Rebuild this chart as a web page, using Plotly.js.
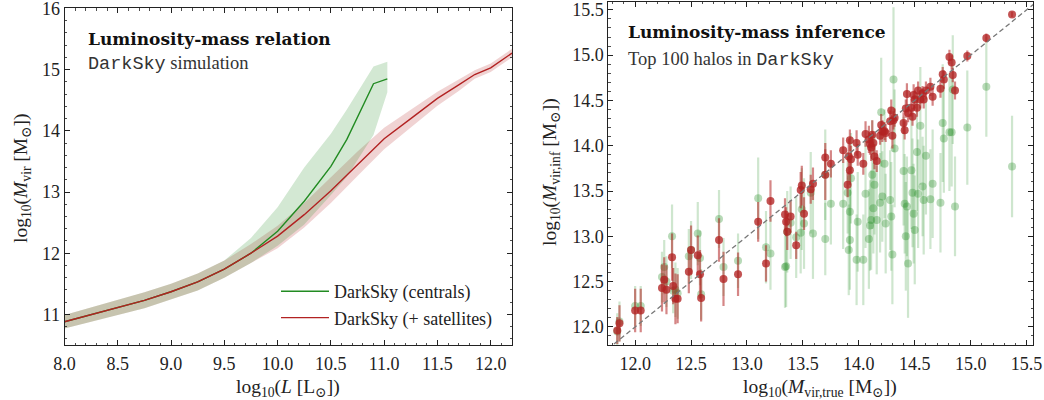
<!DOCTYPE html>
<html>
<head>
<meta charset="utf-8">
<script src="https://cdn.plot.ly/plotly-3.0.1.min.js"></script>
<style>
  html, body { margin: 0; padding: 0; background: #fff; }
  #chart { width: 1044px; height: 400px; }
</style>
</head>
<body>
<div id="chart"></div>
<script>
// ---- Left panel: luminosity-mass relation (median + scatter band) ----
const satL   = [8.0, 8.25, 8.5, 8.75, 9.0, 9.25, 9.5, 9.75, 10.0, 10.25, 10.5, 10.75, 11.0, 11.25, 11.5, 11.7, 11.85, 12.0, 12.2];
const satM   = [10.88, 11.0, 11.11, 11.23, 11.37, 11.53, 11.74, 12.0, 12.28, 12.63, 13.02, 13.45, 13.87, 14.2, 14.53, 14.75, 14.92, 15.03, 15.27];
const satHi  = [10.99, 11.11, 11.23, 11.36, 11.5, 11.67, 11.88, 12.15, 12.45, 12.82, 13.24, 13.66, 14.05, 14.35, 14.64, 14.84, 14.99, 15.1, 15.34];
const satLo  = [10.77, 10.88, 10.99, 11.1, 11.24, 11.39, 11.6, 11.84, 12.08, 12.42, 12.82, 13.26, 13.7, 14.05, 14.41, 14.65, 14.85, 14.96, 15.2];

const cenL   = [8.0, 8.25, 8.5, 8.75, 9.0, 9.25, 9.5, 9.75, 10.0, 10.25, 10.5, 10.65, 10.9, 11.03];
const cenM   = [10.88, 11.0, 11.11, 11.23, 11.37, 11.53, 11.74, 12.0, 12.36, 12.85, 13.42, 13.86, 14.77, 14.85];
const cenHi  = [10.99, 11.11, 11.23, 11.36, 11.5, 11.67, 11.88, 12.25, 12.75, 13.4, 13.95, 14.35, 15.05, 15.13];
const cenLo  = [10.77, 10.88, 10.99, 11.1, 11.24, 11.39, 11.6, 11.84, 12.12, 12.47, 12.95, 13.25, 13.93, 14.63];

// ---- Right panel: inferred vs true virial mass for the top halos ----
const mTrue = [11.84, 11.86, 12.00, 12.05, 12.24, 12.26, 12.28, 12.33, 12.34, 12.36,
               12.38, 12.48, 12.50, 12.56, 12.58, 12.59, 12.75, 12.79, 12.92, 13.10,
               13.17, 13.21, 13.34, 13.35, 13.36, 13.39, 13.44, 13.48, 13.49, 13.51,
               13.57, 13.59, 13.70, 13.70, 13.75, 13.86, 13.91, 13.92, 13.93, 13.90,
               13.92, 13.98, 13.99, 14.04, 14.06, 14.09, 14.10, 14.11, 14.12, 14.13,
               14.14, 14.16, 14.19, 14.20, 14.21, 14.23, 14.24, 14.28, 14.29, 14.31,
               14.30, 14.32, 14.40, 14.41, 14.42, 14.43, 14.44, 14.47, 14.48, 14.49,
               14.50, 14.52, 14.53, 14.55, 14.57, 14.58, 14.60, 14.64, 14.66, 14.73,
               14.75, 14.76, 14.81, 14.83, 14.84, 14.86, 14.97, 15.14, 15.37];
const mInfSat = [11.96, 12.04, 12.18, 12.18, 12.43, 12.52, 12.41, 12.77, 12.45, 12.31,
                 12.31, 12.61, 12.85, 12.79, 12.58, 12.32, 12.96, 12.53, 12.58, 13.16,
                 12.70, 13.39, 13.24, 13.16, 13.05, 13.22, 12.90, 13.51, 13.56, 13.25,
                 13.52, 13.58, 13.87, 13.68, 13.80, 13.95, 13.88, 14.06, 13.85, 13.57,
                 13.73, 14.03, 13.90, 13.80, 14.13, 14.07, 14.02, 13.98, 14.12, 14.03,
                 13.88, 13.83, 14.11, 14.23, 14.16, 14.16, 14.14, 14.27, 14.39, 14.28,
                 14.11, 14.31, 14.25, 14.17, 14.41, 14.57, 14.36, 14.42, 14.32, 14.56,
                 14.51, 14.42, 14.61, 14.51, 14.58, 14.51, 14.61, 14.65, 14.54, 14.63,
                 14.79, 14.73, 14.98, 14.92, 14.78, 14.61, 14.99, 15.19, 15.45];
const errSat  = [0.15, 0.20, 0.24, 0.24, 0.26, 0.25, 0.27, 0.26, 0.20, 0.28,
                 0.27, 0.24, 0.27, 0.22, 0.27, 0.26, 0.24, 0.30, 0.24, 0.22,
                 0.20, 0.23, 0.18, 0.16, 0.20, 0.18, 0.15, 0.20, 0.22, 0.18,
                 0.16, 0.18, 0.16, 0.28, 0.15, 0.14, 0.20, 0.12, 0.15, 0.14,
                 0.16, 0.14, 0.12, 0.12, 0.14, 0.15, 0.12, 0.15, 0.16, 0.12,
                 0.14, 0.12, 0.10, 0.12, 0.12, 0.10, 0.10, 0.12, 0.12, 0.10,
                 0.14, 0.10, 0.12, 0.10, 0.10, 0.12, 0.10, 0.10, 0.10, 0.12,
                 0.10, 0.10, 0.10, 0.10, 0.08, 0.10, 0.10, 0.10, 0.10, 0.10,
                 0.08, 0.10, 0.08, 0.08, 0.08, 0.10, 0.06, 0.05, 0.03];
const mInfCen = [11.95, 12.06, 12.23, 12.23, 12.55, 12.66, 12.50, 13.00, 12.40, 12.41,
                 12.37, 12.78, 12.85, 13.03, 12.76, 12.36, 13.19, 12.66, 12.73, 13.42,
                 12.88, 12.81, 12.66, 12.67, 13.05, 13.15, 12.99, 13.04, 13.30, 13.14,
                 13.48, 13.03, 12.97, 13.68, 13.36, 13.36, 12.85, 13.27, 13.64, 13.48,
                 12.96, 12.74, 13.16, 12.74, 13.47, 12.97, 13.12, 13.18, 13.68, 13.31,
                 13.57, 13.18, 13.37, 14.37, 13.44, 13.80, 13.14, 13.40, 13.22, 14.73,
                 12.80, 13.97, 13.72, 13.36, 13.00, 13.33, 12.70, 13.73, 13.48, 13.25,
                 13.07, 13.93, 13.47, 14.22, 13.55, 13.40, 13.89, 13.41, 13.58, 13.37,
                 14.25, 14.08, 14.15, 14.15, 14.62, 13.33, 14.20, 14.65, 13.77];
const errCen  = [0.20, 0.22, 0.22, 0.22, 0.28, 0.30, 0.28, 0.35, 0.25, 0.30,
                 0.28, 0.30, 0.32, 0.35, 0.30, 0.28, 0.32, 0.32, 0.30, 0.45,
                 0.40, 0.40, 0.45, 0.45, 0.45, 0.40, 0.45, 0.45, 0.45, 0.50,
                 0.45, 0.50, 0.40, 0.50, 0.45, 0.50, 0.50, 0.45, 0.50, 0.45,
                 0.55, 0.50, 0.55, 0.50, 0.60, 0.55, 0.50, 0.55, 0.60, 0.50,
                 0.55, 0.60, 0.55, 0.60, 0.50, 0.60, 0.55, 0.55, 0.60, 0.80,
                 0.55, 0.65, 0.60, 0.55, 0.60, 0.55, 0.60, 0.65, 0.60, 0.55,
                 0.60, 0.65, 0.60, 0.65, 0.55, 0.60, 0.65, 0.55, 0.60, 0.55,
                 0.65, 0.60, 0.65, 0.60, 0.60, 0.55, 0.63, 0.55, 0.56];
const oneToOne = [11.7, 15.6];

// ---- styling ----
const GREEN = '34,139,34';
const RED = '178,34,34';
const SERIF = "'Liberation Serif', 'DejaVu Serif', serif";
const BOLDSERIF = "'DejaVu Serif', 'Liberation Serif', serif";
const MONO = "'Liberation Mono', 'DejaVu Sans Mono', monospace";

function band(x, lo, hi) {
  return { x: x.concat(x.slice().reverse()), y: hi.concat(lo.slice().reverse()) };
}
const cenBand = band(cenL, cenLo, cenHi);
const satBand = band(satL, satLo, satHi);

const traces = [
  { x: satBand.x, y: satBand.y, xaxis: 'x', yaxis: 'y', type: 'scatter', mode: 'lines',
    fill: 'toself', fillcolor: `rgba(${RED},0.2)`, line: { width: 0 }, hoverinfo: 'skip', showlegend: false },
  { x: cenBand.x, y: cenBand.y, xaxis: 'x', yaxis: 'y', type: 'scatter', mode: 'lines',
    fill: 'toself', fillcolor: `rgba(${GREEN},0.2)`, line: { width: 0 }, hoverinfo: 'skip', showlegend: false },
  { x: cenL, y: cenM, xaxis: 'x', yaxis: 'y', type: 'scatter', mode: 'lines',
    line: { color: `rgb(${GREEN})`, width: 1.4 }, name: 'DarkSky (centrals)', legendgroup: 'c' },
  { x: satL, y: satM, xaxis: 'x', yaxis: 'y', type: 'scatter', mode: 'lines',
    line: { color: `rgb(${RED})`, width: 1.4 }, name: 'DarkSky (+ satellites)', legendgroup: 's' },

  { x: mTrue, y: mInfCen, xaxis: 'x2', yaxis: 'y2', type: 'scatter', mode: 'markers',
    marker: { size: 8, color: `rgba(${GREEN},0.32)`, line: { width: 0 } },
    error_y: { type: 'data', array: errCen, visible: true, color: `rgba(${GREEN},0.22)`, thickness: 2.2, width: 0 },
    showlegend: false },
  { x: mTrue, y: mInfSat, xaxis: 'x2', yaxis: 'y2', type: 'scatter', mode: 'markers',
    marker: { size: 8, color: `rgba(${RED},0.78)`, line: { width: 0 } },
    error_y: { type: 'data', array: errSat, visible: true, color: `rgba(${RED},0.55)`, thickness: 2.2, width: 0 },
    showlegend: false },
  { x: oneToOne, y: oneToOne, xaxis: 'x2', yaxis: 'y2', type: 'scatter', mode: 'lines',
    line: { color: 'rgb(120,120,120)', width: 1.3, dash: '5px,3px' }, showlegend: false, hoverinfo: 'skip' }
];

const W = 1044, H = 400;
const fx = p => p / W;
const fy = p => 1 - p / H;

const tickFont = { family: SERIF, size: 18, color: '#222' };
function minor(dt) {
  return { ticks: 'inside', ticklen: 2.5, tickwidth: 0.8, tickcolor: '#222', dtick: dt };
}
function axis(extra) {
  return Object.assign({
    showgrid: false, zeroline: false, showline: true, linecolor: '#222', linewidth: 1,
    mirror: 'ticks', ticks: 'inside', ticklen: 5, tickwidth: 1, tickcolor: '#222',
    tickfont: tickFont, ticklabeloverflow: 'allow'
  }, extra);
}

const layout = {
  width: W, height: H,
  margin: { l: 0, r: 0, t: 0, b: 0 },
  paper_bgcolor: '#fff', plot_bgcolor: '#fff',
  font: { family: SERIF, color: '#222' },
  xaxis: axis({ domain: [fx(64.5), fx(512)], anchor: 'y', range: [8.0, 12.2], tick0: 8, dtick: 0.5, tickformat: '.1f',
                ticklabelstandoff: 2, minor: minor(0.1) }),
  yaxis: axis({ domain: [fy(345), fy(8.3)], anchor: 'x', range: [10.5, 16.002], tick0: 11, dtick: 1, minor: minor(0.2) }),
  xaxis2: axis({ domain: [fx(608.3), fx(1033.3)], anchor: 'y2', range: [11.76, 15.56], tick0: 12, dtick: 0.5, tickformat: '.1f',
                 ticklabelstandoff: 2, minor: minor(0.1) }),
  yaxis2: axis({ domain: [fy(345), fy(1.7)], anchor: 'x2', range: [11.8, 15.59], tick0: 12, dtick: 0.5, tickformat: '.1f', minor: minor(0.1) }),
  showlegend: true,
  legend: {
    x: fx(276), y: fy(273), xanchor: 'left', yanchor: 'top',
    bgcolor: 'rgba(0,0,0,0)', borderwidth: 0, tracegroupgap: 0, itemwidth: 48,
    font: { family: SERIF, size: 18, color: '#222' }
  },
  annotations: [
    { text: '<b>Luminosity-mass relation</b>', xref: 'paper', yref: 'paper', x: fx(86), y: fy(39),
      xanchor: 'left', yanchor: 'middle', showarrow: false, font: { family: BOLDSERIF, size: 17, color: '#111' } },
    { text: `<span style="font-family:${MONO}">DarkSky</span> simulation`, xref: 'paper', yref: 'paper', x: fx(86), y: fy(64),
      xanchor: 'left', yanchor: 'middle', showarrow: false, font: { family: SERIF, size: 18.5, color: '#333' } },
    { text: '<b>Luminosity-mass inference</b>', xref: 'paper', yref: 'paper', x: fx(626), y: fy(32),
      xanchor: 'left', yanchor: 'middle', showarrow: false, font: { family: BOLDSERIF, size: 17, color: '#111' } },
    { text: `Top 100 halos in <span style="font-family:${MONO}">DarkSky</span>`, xref: 'paper', yref: 'paper', x: fx(626), y: fy(60),
      xanchor: 'left', yanchor: 'middle', showarrow: false, font: { family: SERIF, size: 18.5, color: '#333' } },

    { text: 'log<sub>10</sub>(<i>L</i> [L<sub>⊙</sub>])', xref: 'paper', yref: 'paper', x: fx(288), y: fy(387.5),
      xanchor: 'center', yanchor: 'middle', showarrow: false, font: { family: SERIF, size: 19.5, color: '#222' } },
    { text: 'log<sub>10</sub>(<i>M</i><sub>vir</sub> [M<sub>⊙</sub>])', xref: 'paper', yref: 'paper', x: fx(22), y: fy(178),
      xanchor: 'center', yanchor: 'middle', textangle: -90, showarrow: false, font: { family: SERIF, size: 19.5, color: '#222' } },
    { text: 'log<sub>10</sub>(<i>M</i><sub>vir,true</sub> [M<sub>⊙</sub>])', xref: 'paper', yref: 'paper', x: fx(820), y: fy(387.5),
      xanchor: 'center', yanchor: 'middle', showarrow: false, font: { family: SERIF, size: 19.5, color: '#222' } },
    { text: 'log<sub>10</sub>(<i>M</i><sub>vir,inf</sub> [M<sub>⊙</sub>])', xref: 'paper', yref: 'paper', x: fx(551), y: fy(172),
      xanchor: 'center', yanchor: 'middle', textangle: -90, showarrow: false, font: { family: SERIF, size: 19.5, color: '#222' } }
  ]
};

Plotly.newPlot('chart', traces, layout, { staticPlot: true, displayModeBar: false });
</script>
</body>
</html>
